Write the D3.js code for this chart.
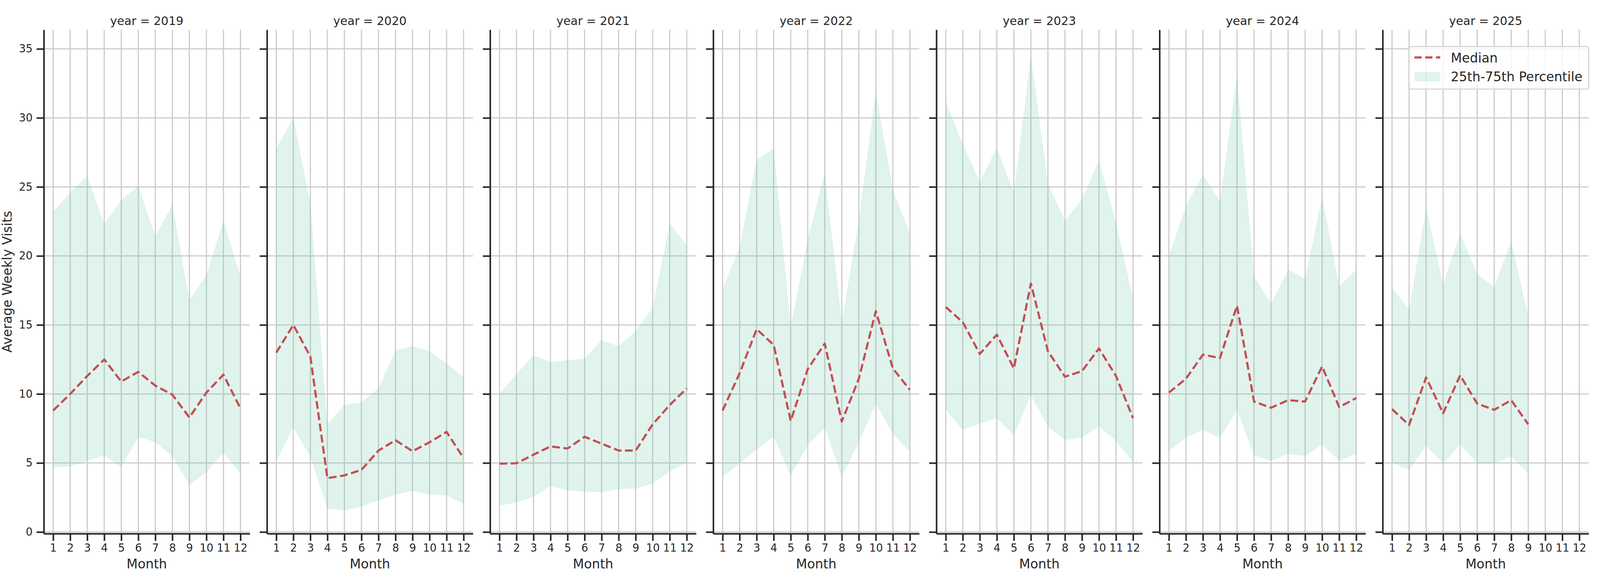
<!DOCTYPE html>
<html>
<head>
<meta charset="utf-8">
<script src="https://cdn.jsdelivr.net/npm/d3@7"></script>
<style>
  html, body { margin: 0; padding: 0; background: #fff; overflow: hidden; }
  .facet-chart svg { display: block; }
  text { font-family: 'DejaVu Sans', sans-serif; fill: #262626; }
</style>
</head>
<body>
<div class="facet-chart"></div>
<script>
const years = [2019, 2020, 2021, 2022, 2023, 2024, 2025];
const months = [1, 2, 3, 4, 5, 6, 7, 8, 9, 10, 11, 12];
const yTicks = [0, 5, 10, 15, 20, 25, 30, 35];

// one row per year, one value per month (null = no data yet)
const median = [
  [8.8, 10.0, 11.3, 12.5, 10.9, 11.6, 10.6, 9.95, 8.3, 10.1, 11.4, 8.95],
  [13.0, 15.0, 12.7, 3.9, 4.1, 4.5, 5.9, 6.65, 5.85, 6.5, 7.25, 5.35],
  [4.95, 4.98, 5.6, 6.2, 6.05, 6.9, 6.4, 5.9, 5.9, 7.8, 9.2, 10.4],
  [8.8, 11.5, 14.7, 13.55, 8.05, 11.8, 13.65, 8.0, 11.1, 16.0, 11.85, 10.3],
  [16.3, 15.2, 12.9, 14.3, 11.85, 18.0, 13.1, 11.25, 11.65, 13.3, 11.3, 8.25],
  [10.1, 11.1, 12.85, 12.6, 16.4, 9.45, 9.0, 9.55, 9.45, 12.0, 9.05, 9.7],
  [8.9, 7.75, 11.2, 8.6, 11.35, 9.3, 8.85, 9.55, 7.8, null, null, null]
];
const p25 = [
  [4.7, 4.75, 5.15, 5.55, 4.7, 6.9, 6.5, 5.5, 3.4, 4.35, 5.75, 4.2],
  [5.15, 7.6, 5.45, 1.7, 1.55, 1.85, 2.3, 2.7, 3.0, 2.7, 2.65, 2.05],
  [1.9, 2.15, 2.55, 3.35, 3.0, 2.92, 2.88, 3.1, 3.15, 3.5, 4.4, 5.0],
  [4.0, 4.95, 6.0, 6.9, 4.1, 6.3, 7.55, 4.0, 6.5, 9.3, 7.1, 5.8],
  [8.85, 7.4, 7.85, 8.25, 7.0, 9.9, 7.65, 6.65, 6.85, 7.65, 6.6, 5.05],
  [5.85, 6.85, 7.4, 6.8, 8.85, 5.55, 5.15, 5.65, 5.5, 6.35, 5.15, 5.65],
  [5.0, 4.5, 6.25, 4.95, 6.35, 4.95, 4.95, 5.5, 4.2, null, null, null]
];
const p75 = [
  [23.2, 24.6, 25.8, 22.3, 24.05, 25.1, 21.4, 23.7, 16.8, 18.6, 22.55, 18.5],
  [27.8, 30.0, 23.8, 7.8, 9.2, 9.4, 10.4, 13.15, 13.45, 13.1, 12.2, 11.2],
  [10.0, 11.45, 12.8, 12.3, 12.45, 12.55, 13.9, 13.45, 14.55, 16.25, 22.35, 20.75],
  [17.6, 20.65, 26.95, 27.8, 14.85, 21.2, 26.0, 15.25, 22.55, 31.95, 24.8, 21.6],
  [31.2, 28.1, 25.35, 27.85, 24.6, 34.5, 25.25, 22.55, 24.1, 26.9, 22.4, 16.9],
  [20.0, 23.6, 25.9, 23.95, 33.1, 18.5, 16.55, 19.0, 18.35, 24.3, 17.8, 19.0],
  [17.7, 16.1, 23.5, 17.95, 21.6, 18.7, 17.75, 21.05, 15.6, null, null, null]
];

// the figure is laid out for 5250x1500, then spread over whatever window we get
const W = window.innerWidth || 5250;
const H = window.innerHeight || 1500;
const sx = W / 5250;
const sy = H / 1500;

const panel = {
  left: 143.7 * sx,
  top: 76 * sy,
  width: 676 * sx,
  height: 1290 * sy,
  step: 732.2 * sx
};
const ink = '#262626';
const gridColor = '#cccccc';
const lineColor = '#c44e52';
const bandColor = '#66c2a5';

const svg = d3
  .select('.facet-chart')
  .append('svg')
  .attr('width', W)
  .attr('height', H);

svg.append('rect').attr('width', W).attr('height', H).attr('fill', '#fff');

const x = d3.scaleLinear().domain([0.45, 12.55]).range([0, panel.width]);
const y = d3.scaleLinear().domain([-0.12, 36.39]).range([panel.height, 0]);

const band = d3
  .area()
  .defined(d => d.lo != null && d.hi != null)
  .x(d => x(d.m))
  .y0(d => y(d.lo))
  .y1(d => y(d.hi));

const medLine = d3
  .line()
  .defined(d => d.v != null)
  .x(d => x(d.m))
  .y(d => y(d.v));

years.forEach((year, k) => {
  const g = svg
    .append('g')
    .attr('transform', 'translate(' + (panel.left + k * panel.step) + ',' + panel.top + ')');

  // grid
  g.selectAll('.vgrid')
    .data(months)
    .enter()
    .append('line')
    .attr('x1', d => x(d))
    .attr('x2', d => x(d))
    .attr('y1', 0)
    .attr('y2', panel.height)
    .attr('stroke', gridColor)
    .attr('stroke-width', 3);

  g.selectAll('.hgrid')
    .data(yTicks)
    .enter()
    .append('line')
    .attr('x1', 0)
    .attr('x2', panel.width)
    .attr('y1', d => y(d))
    .attr('y2', d => y(d))
    .attr('stroke', gridColor)
    .attr('stroke-width', 3);

  // 25th-75th band
  const rows = months.map((m, i) => ({ m: m, lo: p25[k][i], hi: p75[k][i], v: median[k][i] }));
  g.append('path')
    .datum(rows)
    .attr('fill', bandColor)
    .attr('fill-opacity', 0.2)
    .attr('d', band);

  // median
  g.append('path')
    .datum(rows)
    .attr('fill', 'none')
    .attr('stroke', lineColor)
    .attr('stroke-width', 5.5)
    .attr('stroke-dasharray', '20,9')
    .attr('stroke-linejoin', 'round')
    .attr('d', medLine);

  // x axis
  const xAxis = g
    .append('g')
    .attr('transform', 'translate(0,' + panel.height + ')')
    .call(d3.axisBottom(x).tickValues(months).tickSize(18.5).tickSizeOuter(0).tickPadding(8));
  xAxis.select('.domain').attr('stroke', ink).attr('stroke-width', 4);
  xAxis.selectAll('.tick line').attr('stroke', ink).attr('stroke-width', 4);
  xAxis
    .selectAll('.tick text')
    .attr('fill', ink)
    .attr('font-size', 27.5)
    .attr('font-family', 'DejaVu Sans');

  // y axis
  const yAxis = g
    .append('g')
    .call(d3.axisLeft(y).tickValues(yTicks).tickSize(18.5).tickSizeOuter(0).tickPadding(10));
  yAxis.select('.domain').attr('stroke', ink).attr('stroke-width', 4);
  yAxis.selectAll('.tick line').attr('stroke', ink).attr('stroke-width', 4);
  yAxis
    .selectAll('.tick text')
    .attr('fill', ink)
    .attr('font-size', 27.5)
    .attr('font-family', 'DejaVu Sans');
  if (k > 0) yAxis.selectAll('.tick text').remove();

  // title and axis labels
  g.append('text')
    .attr('x', panel.width / 2)
    .attr('y', -12 * sy)
    .attr('text-anchor', 'middle')
    .attr('font-size', 30)
    .text('year = ' + year);

  g.append('text')
    .attr('x', panel.width / 2)
    .attr('y', 1455 * sy - panel.top)
    .attr('text-anchor', 'middle')
    .attr('font-size', 33)
    .text('Month');

  if (k === 0) {
    // keep the same distance to the spine as in the original, tick labels need it
    g.append('text')
      .attr('transform', 'translate(' + -82 + ',' + panel.height / 2 + ') rotate(-90)')
      .attr('text-anchor', 'middle')
      .attr('font-size', 33)
      .text('Average Weekly Visits');
  }

  // legend in last panel, upper right
  if (k === years.length - 1) {
    const lg = g.append('g').attr('transform', 'translate(' + (panel.width - 460) + ',' + 43 * sy + ')');
    lg.append('rect')
      .attr('width', 460)
      .attr('height', 109)
      .attr('rx', 6)
      .attr('fill', '#fff')
      .attr('fill-opacity', 0.8)
      .attr('stroke', '#cccccc')
      .attr('stroke-opacity', 0.8)
      .attr('stroke-width', 3);
    lg.append('line')
      .attr('x1', 14)
      .attr('x2', 80)
      .attr('y1', 28)
      .attr('y2', 28)
      .attr('stroke', lineColor)
      .attr('stroke-width', 5.5)
      .attr('stroke-dasharray', '18.5,9');
    lg.append('rect')
      .attr('x', 14)
      .attr('y', 66)
      .attr('width', 66)
      .attr('height', 23)
      .attr('fill', bandColor)
      .attr('fill-opacity', 0.2);
    lg.append('text').attr('x', 107).attr('y', 41).attr('font-size', 33).text('Median');
    lg.append('text').attr('x', 107).attr('y', 89).attr('font-size', 33).text('25th-75th Percentile');
  }
});
</script>
</body>
</html>
